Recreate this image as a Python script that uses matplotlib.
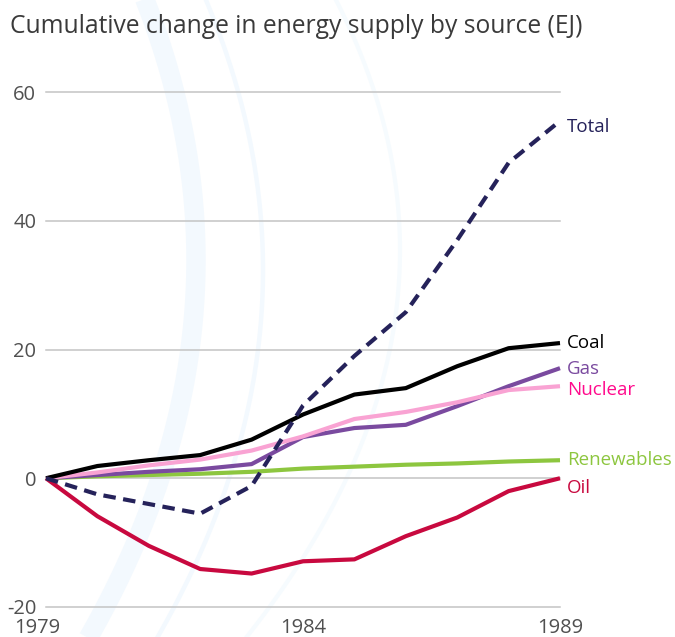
import numpy as np
import matplotlib
matplotlib.use("Agg")
import matplotlib.pyplot as plt
from matplotlib.lines import Line2D
import matplotlib.transforms as mtransforms

years = [1979, 1980, 1981, 1982, 1983, 1984, 1985, 1986, 1987, 1988, 1989]
total = [0, -2.5, -4.0, -5.5, -1.2, 11.3, 19.0, 25.8, 37.0, 49.0, 55.5]
coal = [0, 1.9, 2.8, 3.6, 6.0, 9.9, 13.0, 14.0, 17.4, 20.2, 21.0]
gas = [0, 0.5, 1.0, 1.4, 2.2, 6.4, 7.8, 8.3, 11.2, 14.3, 17.1]
nuclear = [0, 0.9, 2.0, 2.9, 4.3, 6.5, 9.2, 10.3, 11.8, 13.7, 14.3]
renewables = [0, 0.3, 0.5, 0.7, 1.0, 1.5, 1.8, 2.1, 2.3, 2.6, 2.8]
oil = [0, -5.9, -10.5, -14.1, -14.8, -12.9, -12.6, -9.0, -6.1, -2.0, 0]

series = [
    ("Renewables", renewables, "#8dc63f", "#8dc63f"),
    ("Gas", gas, "#7a4a9f", "#7a4a9f"),
    ("Nuclear", nuclear, "#f9a3d3", "#ff0a8c"),
    ("Coal", coal, "#000000", "#000000"),
    ("Oil", oil, "#c8093f", "#c8093f"),
]
label_y_pos = {"Total": 54.6, "Coal": 21.0, "Gas": 16.9, "Nuclear": 13.7, "Renewables": 2.9, "Oil": -1.5}

yticks = [-20, 0, 20, 40, 60]
xticks = [1979, 1984, 1989]

plt.rcParams['font.family'] = ['Open Sans', 'DejaVu Sans']

W, H = 675, 637
fig = plt.figure(figsize=(W / 100, H / 100), dpi=100)

# decorative faint background arcs (figure pixel space)
def arc(xmax, ymid, k, lw, color):
    yy = np.linspace(-10, H + 10, 300)
    xx = xmax - k * (yy - ymid) ** 2
    fig.add_artist(Line2D(xx / W, 1 - yy / H, transform=fig.transFigure,
                          color=color, lw=lw, zorder=0, solid_capstyle='butt'))

arc(196, 260, 0.000754, 14, "#f3f9fe")
arc(263, 270, 0.000782, 3.2, "#f3f9fe")
arc(400, 250, 0.001024, 3.0, "#f6fbfe")

ax = fig.add_axes([46 / W, (H - 607) / H, 514 / W, 515 / H])
ax.patch.set_alpha(0)
ax.set_xlim(1979, 1989)
ax.set_ylim(-20, 60)
for s in ax.spines.values():
    s.set_visible(False)

for yt in yticks:
    ax.axhline(yt, color="#c4c4c4", lw=1.1, zorder=1, clip_on=False)

ax.set_yticks(yticks)
ax.set_yticklabels([str(v) for v in yticks])
ax.set_xticks(xticks)
ax.set_xticklabels([str(v) for v in xticks])
ax.tick_params(axis='both', length=0, labelsize=14.5, colors="#505050")
ax.tick_params(axis='y', pad=7)
ax.tick_params(axis='x', pad=8)
first = ax.get_xticklabels()[0]
first.set_transform(first.get_transform() + mtransforms.ScaledTranslation(-8.5 / 100, 0, fig.dpi_scale_trans))

for name, vals, lc, tc in series:
    ax.plot(years, vals, color=lc, lw=3.0, zorder=3, clip_on=False, solid_capstyle='butt')
    ax.annotate(name, xy=(years[-1], label_y_pos[name]), xytext=(7, 0), textcoords='offset pixels',
                color=tc, fontsize=13.5, va='center', ha='left', annotation_clip=False)

ax.plot(years, total, color="#25225a", lw=3.0, dashes=(3, 1.8), zorder=4, clip_on=False)
ax.annotate("Total", xy=(years[-1], label_y_pos["Total"]), xytext=(7, 0), textcoords='offset pixels',
            color="#25225a", fontsize=13.5, va='center', ha='left', annotation_clip=False)

fig.text(10 / W, 1 - 33 / H, "Cumulative change in energy supply by source (EJ)",
         fontsize=17.7, color="#3a3a3a", va='baseline', ha='left')

fig.savefig("out.png", dpi=100)
